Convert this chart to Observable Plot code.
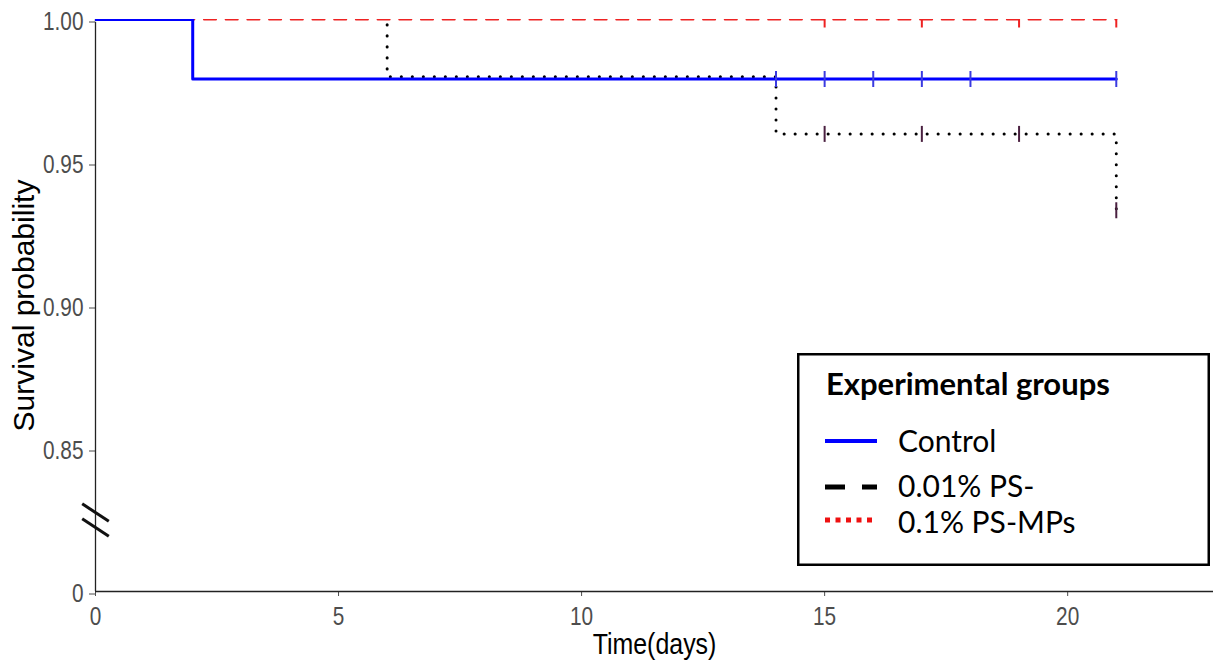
<!DOCTYPE html>
<html>
<head>
<meta charset="utf-8">
<script src="https://cdn.jsdelivr.net/npm/d3@7"></script>
<script src="https://cdn.jsdelivr.net/npm/@observablehq/plot@0.6"></script>
<style>
  html, body { margin: 0; padding: 0; background: #fff; }
  #wrap { position: relative; width: 1213px; height: 666px; overflow: hidden; }
  #legend { position: absolute; left: 797px; top: 353px; }
</style>
</head>
<body>
<div id="wrap"><div id="chart"></div><div id="legend"></div></div>
<script>
// ---- Data ----
// Control (blue, solid)
const controlTime = [0, 2, 21];
const controlSurv = [1, 0.9792, 0.9792];
const controlCensorTime = [14, 15, 16, 17, 18, 21];
const controlCensorSurv = [0.9792, 0.9792, 0.9792, 0.9792, 0.9792, 0.9792];

// Black dotted group
const blackTime = [0, 6, 14, 21];
const blackSurv = [1, 0.98, 0.96, 0.9333];
const blackCensorTime = [15, 17, 19, 21];
const blackCensorSurv = [0.96, 0.96, 0.96, 0.9333];

// Red dashed group
const redTime = [0, 21];
const redSurv = [1, 1];
const redCensorTime = [15, 17, 19, 21];
const redCensorSurv = [1, 1, 1, 1];

// Axis ticks
const xTicks = [0, 5, 10, 15, 20];
const yTicks = [0.8, 0.85, 0.9, 0.95, 1.0];
const yTickLabels = ["0", "0.85", "0.90", "0.95", "1.00"];

// Legend (as printed in the reference)
const legendTitle = "Experimental groups";
const legendLabels = ["Control", "0.01% PS-", "0.1% PS-MPs"];
const legendColors = ["#0000ff", "#000000", "#ee1111"];
const legendDash = [null, "20,17", "5,5.5"];

// ---- Build tables ----
const toRows = (ts, ss) => ts.map((t, i) => ({t, s: ss[i]}));
const controlRows = toRows(controlTime, controlSurv);
const blackRows = toRows(blackTime, blackSurv);
const redRows = toRows(redTime, redSurv);
const controlCensor = toRows(controlCensorTime, controlCensorSurv);
const blackCensor = toRows(blackCensorTime, blackCensorSurv);
const redCensor = toRows(redCensorTime, redCensorSurv);

// axis break location: midway between the first two y ticks
const breakRows = [{t: 0, s: (yTicks[0] + yTicks[1]) / 2}];

// custom symbols
const vbar = {draw(ctx, size) { const r = Math.sqrt(size / Math.PI); ctx.moveTo(0, -r); ctx.lineTo(0, r); }};
const slash = {draw(ctx, size) { const r = Math.sqrt(size / Math.PI); ctx.moveTo(-r, -r * 0.65); ctx.lineTo(r, r * 0.65); }};

const sans = "'Liberation Sans', Arial, sans-serif";

const chart = Plot.plot({
  width: 1213,
  height: 666,
  marginLeft: 95,
  marginTop: 19,
  marginBottom: 75,
  marginRight: 0,
  style: {fontFamily: sans, fontSize: "26px", background: "#fff"},
  x: {domain: [0, 23]},
  y: {domain: [0.8, 1.0]},
  marks: [
    Plot.axisY(yTicks, {
      anchor: "left", tickSize: 6, tickPadding: 6, fontSize: 26, dy: 2.5,
      color: "#4d4d4d", label: null,
      tickFormat: d => yTickLabels[yTicks.indexOf(d)]
    }),
    Plot.axisX(xTicks, {
      anchor: "bottom", tickSize: 5, tickPadding: 10, fontSize: 26,
      color: "#4d4d4d", label: null
    }),
    Plot.ruleX([0], {stroke: "#222", strokeWidth: 1.3}),
    Plot.ruleY([yTicks[0]], {stroke: "#222", strokeWidth: 1.3}),
    Plot.dot(breakRows, {x: "t", y: "s", symbol: slash, r: 13.3, stroke: "#111", strokeWidth: 3, dy: -7.5, fill: "none"}),
    Plot.dot(breakRows, {x: "t", y: "s", symbol: slash, r: 13.3, stroke: "#111", strokeWidth: 3, dy: 7.5, fill: "none"}),
    // black dotted
    Plot.line(blackRows, {x: "t", y: "s", curve: "step-after", stroke: "#000", strokeWidth: 3,
      strokeDasharray: "0.1,10.9", strokeLinecap: "round", clip: true}),
    // red dashed (over a white underlay so the dashes' gaps stay clean)
    Plot.line(redRows, {x: "t", y: "s", curve: "step-after", stroke: "#fff", strokeWidth: 4.5, clip: true}),
    Plot.line(redRows, {x: "t", y: "s", curve: "step-after", stroke: "#ee2222", strokeWidth: 2,
      strokeDasharray: "12,9.7", clip: true}),
    // blue solid
    Plot.line(controlRows, {x: "t", y: "s", curve: "step-after", stroke: "#0000ff", strokeWidth: 3, clip: true}),
    // censor ticks
    Plot.dot(controlCensor, {x: "t", y: "s", symbol: vbar, r: 8, stroke: "#3a3ae0", strokeWidth: 2, clip: true}),
    Plot.dot(blackCensor, {x: "t", y: "s", symbol: vbar, r: 8, stroke: "#4a2040", strokeWidth: 2, clip: true}),
    Plot.dot(redCensor, {x: "t", y: "s", symbol: vbar, r: 8, stroke: "#ee2222", strokeWidth: 2, clip: true}),
    // axis titles
    Plot.text(["Survival probability"], {frameAnchor: "left", dx: -71.6, rotate: -90, fontSize: 30, fill: "#000",
      textAnchor: "middle", lineAnchor: "middle"}),
    Plot.text(["Time(days)"], {frameAnchor: "bottom", dy: 53.4, fontSize: 29, fill: "#000",
      textAnchor: "middle", lineAnchor: "middle"})
  ]
});
document.getElementById("chart").appendChild(chart);

// the reference's lettering is horizontally condensed: squeeze tick labels and the x title
const squeeze = (sel, k) => sel.each(function() {
  const tr = this.getAttribute("transform") || "";
  this.setAttribute("transform", tr + ` scale(${k},1)`);
});
squeeze(d3.select(chart).selectAll('g[aria-label="y-axis tick label"] text, g[aria-label="x-axis tick label"] text'), 0.8);
squeeze(d3.select(chart).selectAll("text").filter(function() { return this.textContent === "Time(days)"; }), 0.86);

// ---- Legend ----
const lw = 413, lh = 213;
const lsvg = d3.select("#legend").append("svg").attr("width", lw).attr("height", lh)
  .style("font-family", "Lato, 'Open Sans', sans-serif");
lsvg.append("rect").attr("x", 1.25).attr("y", 1.25).attr("width", lw - 2.5).attr("height", lh - 2.5)
  .attr("fill", "#fff").attr("stroke", "#000").attr("stroke-width", 2.5);
lsvg.append("text").attr("x", 29).attr("y", 42).attr("font-size", 31).attr("font-weight", "bold")
  .attr("fill", "#000").text(legendTitle);
const baselines = [99, 144, 180];
const swY = [88, 134, 167];
legendLabels.forEach((lab, i) => {
  const ln = lsvg.append("line").attr("x1", 28).attr("x2", 80).attr("y1", swY[i]).attr("y2", swY[i])
    .attr("stroke", legendColors[i]).attr("stroke-width", i === 0 ? 4 : 5);
  if (legendDash[i]) ln.attr("stroke-dasharray", legendDash[i]);
  lsvg.append("text").attr("x", 101).attr("y", baselines[i]).attr("font-size", 30)
    .attr("fill", "#000").text(lab);
});
</script>
</body>
</html>
